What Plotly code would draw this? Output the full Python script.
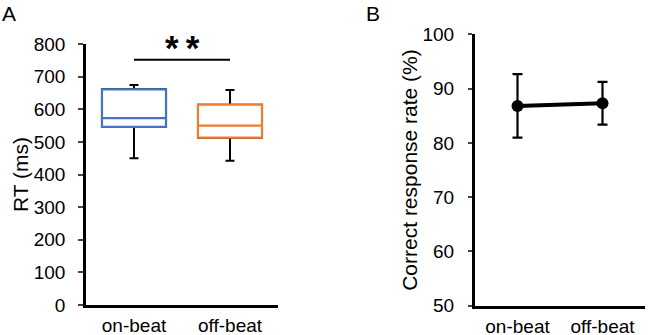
import plotly.graph_objects as go

# ---- data ----
categories = ["on-beat", "off-beat"]
rt_q1 = [546, 513]
rt_median = [573, 550]
rt_q3 = [661, 614]
rt_lower = [450, 442]
rt_upper = [674, 659]
box_colors = ["#4472C4", "#ED7D31"]

sig_y = 752
sig_label = "<b>*\u2009*</b>"

acc_mean = [86.8, 87.3]
acc_err = [5.85, 3.95]

rt_ticks = [0, 100, 200, 300, 400, 500, 600, 700, 800]
acc_ticks = [50, 60, 70, 80, 90, 100]

FONT = "Arial, Liberation Sans, sans-serif"
W, H = 649, 335
TICK_SIZE = 19
TITLE_SIZE = 21

fig = go.Figure()

# black boxes (provide whiskers + caps), underneath
for i, c in enumerate(categories):
    fig.add_trace(go.Box(
        x=[c], q1=[rt_q1[i]], median=[rt_median[i]], q3=[rt_q3[i]],
        lowerfence=[rt_lower[i]], upperfence=[rt_upper[i]],
        width=0.667, whiskerwidth=0.14, boxpoints=False,
        line=dict(color="black", width=2), fillcolor="white",
        xaxis="x", yaxis="y", showlegend=False, hoverinfo="skip"))
# coloured boxes on top (no whiskers)
for i, c in enumerate(categories):
    fig.add_trace(go.Box(
        x=[c], q1=[rt_q1[i]], median=[rt_median[i]], q3=[rt_q3[i]],
        lowerfence=[rt_q1[i]], upperfence=[rt_q3[i]],
        width=0.667, whiskerwidth=0, boxpoints=False,
        line=dict(color=box_colors[i], width=2.2), fillcolor="white",
        xaxis="x", yaxis="y", showlegend=False, hoverinfo="skip"))

# significance line
fig.add_trace(go.Scatter(
    x=categories, y=[sig_y, sig_y], mode="lines",
    line=dict(color="black", width=2), xaxis="x", yaxis="y",
    showlegend=False, hoverinfo="skip", cliponaxis=False))

# panel B
fig.add_trace(go.Scatter(
    x=categories, y=acc_mean, mode="lines+markers",
    line=dict(color="black", width=4),
    marker=dict(color="black", size=12),
    error_y=dict(type="data", array=acc_err, color="black", thickness=2.2, width=5),
    xaxis="x2", yaxis="y2", showlegend=False, hoverinfo="skip"))

axis_common = dict(showgrid=False, zeroline=False, showline=True,
                   linecolor="black", automargin=False,
                   tickfont=dict(family=FONT, size=TICK_SIZE, color="black"))

fig.update_layout(
    width=W, height=H, margin=dict(l=0, r=0, t=0, b=0),
    paper_bgcolor="white", plot_bgcolor="white",
    boxmode="overlay", showlegend=False,
    font=dict(family=FONT, color="black"),
    xaxis=dict(domain=[86 / W, 278 / W], anchor="y", type="category",
               range=[-0.5, 1.5], ticks="", linewidth=2.5,
               ticklabelstandoff=1, **axis_common),
    yaxis=dict(domain=[(H - 305) / H, (H - 44) / H], anchor="x",
               range=[0, 800], tickvals=rt_ticks, ticks="outside",
               ticklen=5, tickwidth=2, linewidth=2.5, ticklabelstandoff=9,
               title=dict(text="RT (ms)", font=dict(family=FONT, size=TITLE_SIZE), standoff=0),
               **axis_common),
    xaxis2=dict(domain=[475 / W, 645 / W], anchor="y2", type="category",
                range=[-0.5, 1.5], ticks="", linewidth=3,
                ticklabelstandoff=1, **axis_common),
    yaxis2=dict(domain=[(H - 305.7) / H, (H - 34.3) / H], anchor="x2",
                range=[50, 100], tickvals=acc_ticks, ticks="outside",
                ticklen=4, tickwidth=2, linewidth=3, ticklabelstandoff=10,
                title=dict(text="Correct response rate (%)", font=dict(family=FONT, size=TITLE_SIZE), standoff=0),
                **axis_common),
    annotations=[
        dict(text=sig_label, x=0.5, y=sig_y, xref="x", yref="y",
             yshift=-9, showarrow=False, yanchor="bottom",
             font=dict(family=FONT, size=35, color="black")),
        dict(text="A", x=0 / W, y=1.0, xref="paper", yref="paper",
             xanchor="left", yanchor="top", showarrow=False,
             font=dict(family=FONT, size=21, color="black")),
        dict(text="B", x=364 / W, y=1.0, xref="paper", yref="paper",
             xanchor="left", yanchor="top", showarrow=False,
             font=dict(family=FONT, size=21, color="black")),
    ],
)

fig.write_html("out.html")
